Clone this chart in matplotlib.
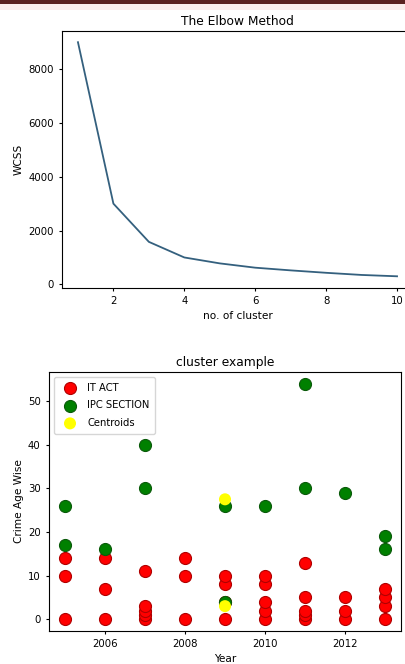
import matplotlib
matplotlib.use("Agg")
import matplotlib.pyplot as plt
from matplotlib.patches import Rectangle

# Elbow curve
n_clusters = [1, 2, 3, 4, 5, 6, 7, 8, 9, 10]
wcss = [9000, 3000, 1580, 1000, 780, 620, 520, 430, 350, 300]

# Cluster example
it_act_year = [2005, 2005, 2005, 2006, 2006, 2006, 2007, 2007, 2007, 2007, 2007,
               2008, 2008, 2008, 2009, 2009, 2009, 2009, 2010, 2010, 2010, 2010, 2010,
               2011, 2011, 2011, 2011, 2011, 2012, 2012, 2012, 2013, 2013, 2013, 2013]
it_act_age = [0, 10, 14, 0, 7, 14, 0, 1, 2, 3, 11,
              0, 10, 14, 0, 4, 8, 10, 0, 2, 4, 8, 10,
              0, 1, 2, 5, 13, 0, 2, 5, 0, 3, 5, 7]
ipc_year = [2005, 2005, 2006, 2007, 2007, 2009, 2009, 2010, 2011, 2011, 2012, 2013, 2013]
ipc_age = [17, 26, 16, 30, 40, 26, 4, 26, 30, 54, 29, 16, 19]
centroid_year = [2009, 2009]
centroid_age = [27.5, 3]

fig = plt.figure(figsize=(4.06, 6.64), dpi=100)

# dark header strip from the screenshot
fig.patches.append(Rectangle((0, 1 - 4 / 664), 1, 4 / 664, transform=fig.transFigure,
                             facecolor="#5b2222", edgecolor="none"))
fig.patches.append(Rectangle((0, 1 - 10 / 664), 1, 6 / 664, transform=fig.transFigure,
                             facecolor="#fbeeee", edgecolor="none"))

ax1 = fig.add_axes([62 / 406, 1 - 288 / 664, 351 / 406, 257.5 / 664])
ax1.plot(n_clusters, wcss, color="#34607e", linewidth=1.3)
ax1.set_title("The Elbow Method", fontsize=8.8, pad=4)
ax1.set_xlabel("no. of cluster", fontsize=7.6, labelpad=3)
ax1.set_ylabel("WCSS", fontsize=7.6, labelpad=3)
ax1.set_xticks([2, 4, 6, 8, 10])
ax1.set_yticks([0, 2000, 4000, 6000, 8000])
ax1.tick_params(labelsize=7.3, length=2.5)

ax2 = fig.add_axes([49 / 406, 1 - 631 / 664, 352 / 406, 259 / 664])
ax2.scatter(it_act_year, it_act_age, s=75, c="red", edgecolors="#b00000", linewidths=0.8, label="IT ACT")
ax2.scatter(ipc_year, ipc_age, s=75, c="green", edgecolors="#0a5a0a", linewidths=0.8, label="IPC SECTION")
ax2.scatter(centroid_year, centroid_age, s=75, c="yellow", edgecolors="none", label="Centroids")
ax2.set_title("cluster example", fontsize=8.8, pad=4)
ax2.set_xlabel("Year", fontsize=7.6, labelpad=3)
ax2.set_ylabel("Crime Age Wise", fontsize=7.6, labelpad=3)
ax2.set_xticks([2006, 2008, 2010, 2012])
ax2.set_yticks([0, 10, 20, 30, 40, 50])
ax2.tick_params(labelsize=7.3, length=2.5)
ax2.legend(loc="upper left", fontsize=7.2, markerscale=1.0, handletextpad=0.7,
           borderpad=0.6, labelspacing=0.75)

fig.savefig("out.png", dpi=100)
